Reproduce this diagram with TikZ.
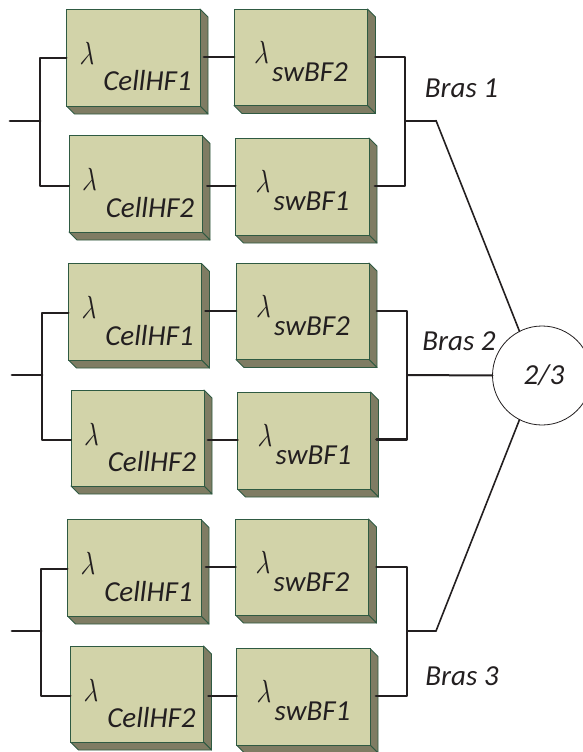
\documentclass[tikz,border=0pt]{standalone}
\usepackage{fontspec}
\setmainfont{Carlito}
\usetikzlibrary{calc}
\definecolor{boxface}{HTML}{D2D3A9}
\definecolor{boxside}{HTML}{7F7C63}
\definecolor{boxedge}{HTML}{2F5A42}
\definecolor{wire}{HTML}{231F20}
\tikzset{
  faceBox/.style={draw=boxedge,line width=0.9pt,fill=boxface,rectangle,inner sep=0pt,outer sep=0pt,anchor=north west},
  depthFace/.style={draw=boxedge,line width=0.9pt,fill=boxside,line join=round},
  lamLabel/.style={inner sep=0pt,xscale=2.5,yscale=3.2,xslant=0.12,text=wire},
  nameLabel/.style={inner sep=0pt,font=\fontsize{29}{29}\selectfont\itshape,text=wire},
  braLabel/.style={inner sep=0pt,font=\fontsize{29}{29}\selectfont\itshape,text=wire},
  thinWire/.style={draw=wire,line width=2pt,line cap=round,line join=round},
  thickWire/.style={draw=wire,line width=2.8pt,line cap=round,line join=round},
  voteLine/.style={draw=wire,line width=1.6pt,line cap=round,line join=round},
}
% name, x0, y0, x1, y1, lambda offset
\newcommand{\rbdBox}[6]{%
  \draw[depthFace] (#4,#3) -- (#4+8,#3+8) -- (#4+8,#5+8) -- (#4,#5) -- cycle;
  \draw[depthFace] (#2,#5) -- (#2+8,#5+8) -- (#4+8,#5+8) -- (#4,#5) -- cycle;
  \node[faceBox,minimum width=#4-#2,minimum height=#5-#3] (#1) at (#2,#3) {};
  \node[lamLabel] (#1lam) at ($(#1.north west)+(#6)$) {$\lambda$};
}
\newcommand{\boxHF}[6]{%
  \rbdBox{#1}{#2}{#3}{#4}{#5}{21.5,44}
  \node[nameLabel] (#1name) at ($(#1.north west)+(81,72)$) {#6};
}
\newcommand{\boxSW}[6]{%
  \rbdBox{#1}{#2}{#3}{#4}{#5}{28.5,43}
  \node[nameLabel] (#1name) at ($(#1.north west)+(76,63)$) {#6};
}
\begin{document}
\begin{tikzpicture}[x=1pt,y=-1pt]
\useasboundingbox (0,0) rectangle (582,752);
% Bras 1
\boxHF{aa}{66.5}{9}{200}{106}{CellHF1}
\boxSW{ab}{234}{9}{367.5}{105.5}{swBF2}
\boxHF{ac}{69}{135.5}{202}{232}{CellHF2}
\boxSW{ad}{235.5}{138}{369}{235}{swBF1}
% Bras 2
\boxHF{ba}{68.5}{263.5}{201.5}{360}{CellHF1}
\boxSW{bb}{236}{263}{369}{359.5}{swBF2}
\boxHF{bc}{71}{390}{204}{486}{CellHF2}
\boxSW{bd}{237.5}{392}{370.5}{489}{swBF1}
% Bras 3
\boxHF{ca}{67.5}{519.5}{201}{616}{CellHF1}
\boxSW{cb}{235.5}{519}{368.5}{615}{swBF2}
\boxHF{cc}{70.5}{646}{203.5}{742}{CellHF2}
\boxSW{cd}{236.5}{648.5}{370}{745}{swBF1}
% vote
\node[circle,draw=wire,line width=0.8pt,minimum size=99pt,inner sep=0pt,outer sep=0pt] (vote) at (542,375.5) {};
\node[braLabel] (votetxt) at (544,375.5) {2/3};
\node[braLabel] (bras1) at (461.5,88) {Bras 1};
\node[braLabel] (bras2) at (459,341.5) {Bras 2};
\node[braLabel] (bras3) at (462,676) {Bras 3};
% junctions
\coordinate (ain) at (10,121);   \coordinate (aj) at (40,121);
\coordinate (bin) at (12,375);   \coordinate (bj) at (42,375);
\coordinate (cin) at (12,631);   \coordinate (cj) at (41,631);
\coordinate (aout) at (405,120.5); \coordinate (akink) at (436,120.5);
\coordinate (bout) at (407,375);
\coordinate (cout) at (407,631); \coordinate (ckink) at (436,631);
% Bras 1 wires
\draw[thickWire] (ain) -- (aj);
\draw[thinWire] (aa.west |- 0,58.5) -| (aj |- 0,186) -- (ac.west |- 0,186);
\draw[thickWire] ([xshift=4pt]aa.east |- 0,57) -- (ab.west |- 0,57);
\draw[thinWire] ([xshift=5pt]ac.east |- 0,186) -- (ad.west |- 0,186);
\draw[thickWire] ([xshift=8pt]ab.east |- 0,57) -| (aout |- 0,186) -- ([xshift=6pt]ad.east |- 0,186);
\draw[thinWire] (aout) -- (akink);
\draw[voteLine] (akink) -- (vote.117);
% Bras 2 wires
\draw[thickWire] (bin) -- (bj);
\draw[thinWire] (ba.west |- 0,312.5) -| (bj |- 0,440) -- (bc.west |- 0,440);
\draw[thickWire] ([xshift=4pt]ba.east |- 0,311) -- (bb.west |- 0,311);
\draw[thickWire] ([xshift=4pt]bc.east |- 0,440) -- (bd.west |- 0,440);
\draw[thickWire] ([xshift=8pt]bb.east |- 0,311) -| (bout |- 0,439.5) -- ([xshift=6pt]bd.east |- 0,439.5);
\draw[thinWire] (bout) -- (vote.west);
% Bras 3 wires
\draw[thickWire] (cin) -- (cj);
\draw[thinWire] (ca.west |- 0,568.5) -| (cj |- 0,696) -- (cc.west |- 0,696);
\draw[thickWire] ([xshift=5pt]ca.east |- 0,567) -- (cb.west |- 0,567);
\draw[thickWire] ([xshift=5pt]cc.east |- 0,696) -- (cd.west |- 0,696);
\draw[thickWire] ([xshift=8pt]cb.east |- 0,567) -| (cout |- 0,696) -- ([xshift=6pt]cd.east |- 0,696);
\draw[thinWire] (cout) -- (ckink);
\draw[voteLine] (ckink) -- (vote.243);
\end{tikzpicture}
\end{document}
